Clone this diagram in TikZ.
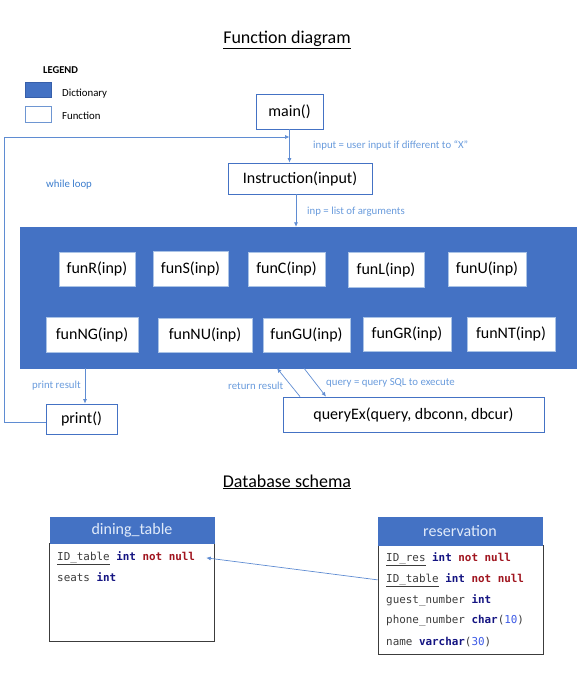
\documentclass[tikz,border=0pt]{standalone}
\usepackage{fontspec}
\setmainfont{Carlito}
\newfontfamily\codefont{DejaVu Sans Mono}
\usetikzlibrary{arrows.meta}
\definecolor{dictblue}{RGB}{68,114,196}
\definecolor{dictdark}{RGB}{55,95,170}
\definecolor{linecol}{RGB}{95,140,210}
\definecolor{lblcol}{RGB}{105,155,220}
\definecolor{loopcol}{RGB}{60,125,205}
\definecolor{innerborder}{RGB}{170,195,230}
\definecolor{legborder}{RGB}{110,150,210}
\definecolor{kwcol}{RGB}{20,20,130}
\definecolor{nncol}{RGB}{160,20,30}
\definecolor{numcol}{RGB}{60,90,230}
\definecolor{idcol}{RGB}{60,60,60}
\definecolor{hdrtext}{RGB}{225,235,250}
\definecolor{bodyborder}{RGB}{60,60,60}
\newcommand{\kw}[1]{\textbf{\color{kwcol}#1}}
\newcommand{\nn}[1]{\textbf{\color{nncol}#1}}
\newcommand{\numv}[1]{{\color{numcol}#1}}
\newcommand{\pkey}[1]{\underline{#1}}
\tikzset{
  fbox/.style={draw=dictblue, line width=0.8pt, fill=white, inner sep=0pt, font=\fontsize{16}{19}\selectfont, text=black},
  ibox/.style={draw=innerborder, line width=0.5pt, fill=white, inner sep=0pt, font=\fontsize{16}{19}\selectfont, text=black},
  lbl/.style={anchor=base west, inner sep=0pt, text=lblcol, font=\fontsize{10.8}{12}\selectfont},
  flow/.style={draw=linecol, line width=0.7pt, -{Latex[length=4.5pt,width=4pt]}},
  row/.style={anchor=base west, inner sep=0pt, text=idcol, font=\codefont\fontsize{10.9}{13}\selectfont},
  hdr/.style={fill=dictblue, draw=dictblue, text=hdrtext, font=\fontsize{16}{19}\selectfont, inner sep=0pt},
  tbody/.style={draw=bodyborder, line width=0.8pt, fill=white, inner sep=0pt},
  titletext/.style={anchor=base, font=\fontsize{18}{21}\selectfont, inner sep=0pt},
  legtext/.style={anchor=base west, inner sep=0pt, font=\fontsize{10.8}{12}\selectfont},
}
\begin{document}
\begin{tikzpicture}[x=1pt,y=-1pt]
\useasboundingbox (0,0) rectangle (583,693);
% titles
\node[titletext] (t1) at (287,44) {\underline{Function diagram}};
\node[titletext] (t2) at (287,487) {\underline{Database schema}};
% legend
\node[legtext, font=\bfseries\fontsize{10.5}{12}\selectfont] (leg) at (43,74) {LEGEND};
\node[draw=dictdark, fill=dictblue, line width=0.8pt, minimum width=26, minimum height=15, inner sep=0pt] (legD) at (38.5,89.5) {};
\node[draw=legborder, fill=white, line width=0.8pt, minimum width=26, minimum height=16, inner sep=0pt] (legF) at (38,114) {};
\node[legtext] (legDt) at (62,96.5) {Dictionary};
\node[legtext] (legFt) at (62,119.5) {Function};
% main nodes
\node[fbox, minimum width=67, minimum height=35] (main) at (289.5,111.5) {main()};
\node[fbox, minimum width=144, minimum height=31] (instr) at (300,178.5) {Instruction(input)};
\node[draw=dictblue, fill=dictblue, minimum width=556, minimum height=141, inner sep=0pt] (dict) at (298,297.5) {};
\node[ibox, minimum width=76, minimum height=34] (funR) at (97,269) {funR(inp)};
\node[ibox, minimum width=75, minimum height=35] (funS) at (190.5,268.5) {funS(inp)};
\node[ibox, minimum width=77, minimum height=34] (funC) at (286.5,269) {funC(inp)};
\node[ibox, minimum width=76, minimum height=35] (funL) at (386,269.5) {funL(inp)};
\node[ibox, minimum width=78, minimum height=34] (funU) at (487,269) {funU(inp)};
\node[ibox, minimum width=92, minimum height=35] (funNG) at (92,334.5) {funNG(inp)};
\node[ibox, minimum width=94, minimum height=34] (funNU) at (205,335) {funNU(inp)};
\node[ibox, minimum width=87, minimum height=34] (funGU) at (306.5,335) {funGU(inp)};
\node[ibox, minimum width=88, minimum height=34] (funGR) at (407,334) {funGR(inp)};
\node[ibox, minimum width=88, minimum height=34] (funNT) at (511,334) {funNT(inp)};
\node[fbox, minimum width=71, minimum height=30] (print) at (81.5,419) {print()};
\node[fbox, minimum width=261, minimum height=35] (qex) at (413.5,414.5) {queryEx(query, dbconn, dbcur)};
% labels
\node[lbl] (l1) at (313,148.5) {input = user input if different to “X”};
\node[lbl] (l2) at (307,214.5) {inp = list of arguments};
\node[lbl, text=loopcol] (l3) at (46,187.5) {while loop};
\node[lbl] (l4) at (32,388.5) {print result};
\node[lbl] (l5) at (228,389.5) {return result};
\node[lbl] (l6) at (326,385.5) {query = query SQL to execute};
% connectors
\draw[flow] (main.south) -- (main.south |- instr.north);
\coordinate (i2) at ([xshift=-4pt]instr.south);
\draw[flow] (i2) -- (i2 |- dict.north);
\coordinate (pw) at ([yshift=-3pt]print.west);
\coordinate (lp) at (4,137);
\draw[flow] (pw) -| (lp) -- (lp -| main.south);
\coordinate (pn) at ([xshift=3.5pt]print.north);
\draw[flow] (pn |- dict.south) -- (pn);
\draw[flow] ([xshift=6pt]dict.south) -- ([xshift=-87.5pt]qex.north);
\draw[flow] ([xshift=-113.5pt]qex.north) -- ([xshift=-21pt]dict.south);
% database tables
\node[tbody, minimum width=165, minimum height=98] (dtb) at (131.5,592) {};
\node[hdr, minimum width=164, minimum height=26] (dth) at (132,530) {dining\_table};
\node[row] (d1) at (57,560) {\pkey{ID\_table} \kw{int} \nn{not null}};
\node[row] (d2) at (57,581) {seats \kw{int}};
\node[tbody, minimum width=165, minimum height=109] (rtb) at (460.5,599.5) {};
\node[hdr, minimum width=164, minimum height=28] (rth) at (460,531) {reservation};
\node[row] (r1) at (386,561) {\pkey{ID\_res} \kw{int} \nn{not null}};
\node[row] (r2) at (386,582) {\pkey{ID\_table} \kw{int} \nn{not null}};
\node[row] (r3) at (386,603) {guest\_number \kw{int}};
\node[row] (r4) at (386,623) {phone\_number \kw{char}(\numv{10})};
\node[row] (r5) at (386,645) {name \kw{varchar}(\numv{30})};
\draw[flow] (rtb.west |- r2.west) -- ([xshift=11pt]d1.east);
\end{tikzpicture}
\end{document}
